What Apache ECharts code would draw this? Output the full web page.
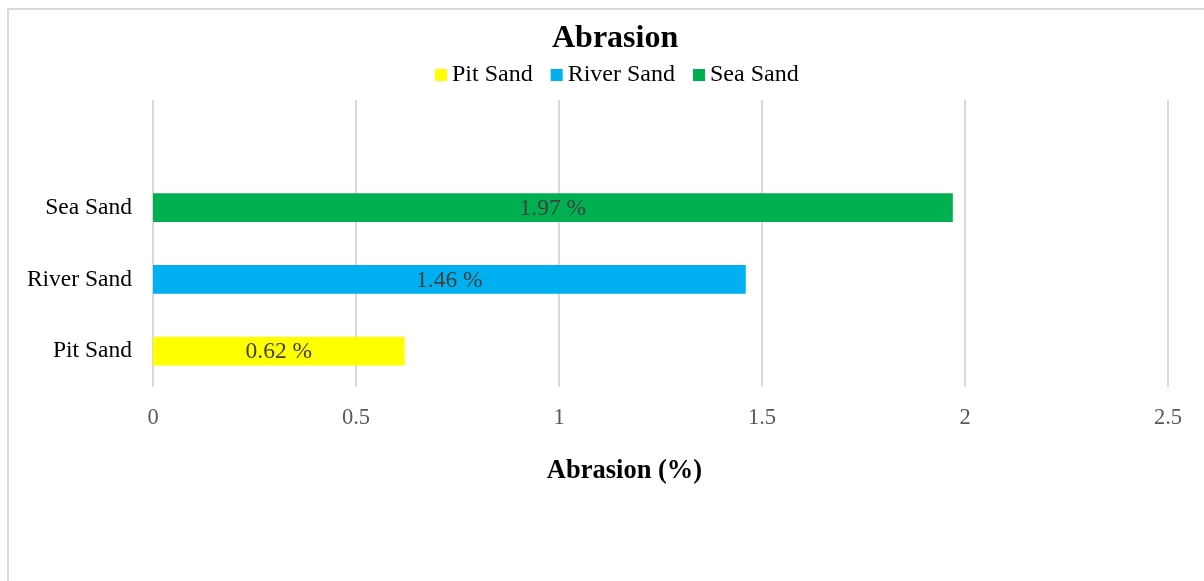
<!DOCTYPE html>
<html>
<head>
<meta charset="utf-8">
<style>
  html, body { margin: 0; padding: 0; background: #fff; }
  #chart { width: 1204px; height: 581px; }
</style>
<script src="https://cdn.jsdelivr.net/npm/echarts@6/dist/echarts.min.js"></script>
</head>
<body>
<div id="chart"></div>
<script>
// ---- data ----
const categories = ['Pit Sand', 'River Sand', 'Sea Sand'];
const values = [0.62, 1.46, 1.97];
const seriesColors = ['#FFFF00', '#00B0F0', '#00B050'];
const xTicks = { min: 0, max: 2.5, interval: 0.5 };
const chartTitle = 'Abrasion';
const xAxisTitle = 'Abrasion (%)';

const FONT = "'Liberation Serif', 'Times New Roman', serif";

// one empty category on top, as in the reference
const yCats = categories.concat(['']);

const series = categories.map((name, i) => {
  const data = yCats.map((c, j) => (j === i ? values[i] : null));
  return {
    name: name,
    type: 'bar',
    stack: 'total',
    barWidth: '40%',
    data: data,
    itemStyle: { color: seriesColors[i] },
    label: {
      show: true,
      position: 'inside',
      offset: [0, 1],
      formatter: (p) => p.value + ' %',
      color: '#404040',
      fontSize: 23.5,
      fontFamily: FONT
    }
  };
});

const chart = echarts.init(document.getElementById('chart'));
chart.setOption({
  animation: false,
  backgroundColor: '#ffffff',
  graphic: [{
    type: 'rect',
    shape: { x: 8, y: 9, width: 1400, height: 800 },
    style: { fill: 'none', stroke: '#d9d9d9', lineWidth: 2 },
    z: -1
  }],
  title: {
    text: chartTitle,
    left: 547,
    top: 18,
    textStyle: { fontFamily: FONT, fontSize: 32, fontWeight: 'bold', color: '#000' }
  },
  legend: {
    left: 430,
    top: 58,
    itemWidth: 12,
    itemHeight: 12,
    itemGap: 18,
    icon: 'rect',
    textStyle: { fontFamily: FONT, fontSize: 24, color: '#000' },
    data: categories
  },
  grid: { left: 153, right: 36, top: 100, bottom: 194, containLabel: false },
  xAxis: {
    type: 'value',
    min: xTicks.min,
    max: xTicks.max,
    interval: xTicks.interval,
    axisLine: { show: false },
    axisTick: { show: false },
    splitLine: { show: true, lineStyle: { color: '#d9d9d9', width: 2 } },
    axisLabel: { color: '#595959', fontFamily: FONT, fontSize: 22.5, margin: 20 },
    name: xAxisTitle,
    nameLocation: 'middle',
    nameGap: 71,
    nameTextStyle: { fontFamily: FONT, fontSize: 26.5, fontWeight: 'bold', color: '#000', padding: [0, 72, 0, 0] }
  },
  yAxis: {
    type: 'category',
    data: yCats,
    axisLine: { show: false },
    axisTick: { show: false },
    splitLine: { show: false },
    axisLabel: { color: '#000', fontFamily: FONT, fontSize: 23.5, margin: 21 }
  },
  series: series
});
</script>
</body>
</html>
